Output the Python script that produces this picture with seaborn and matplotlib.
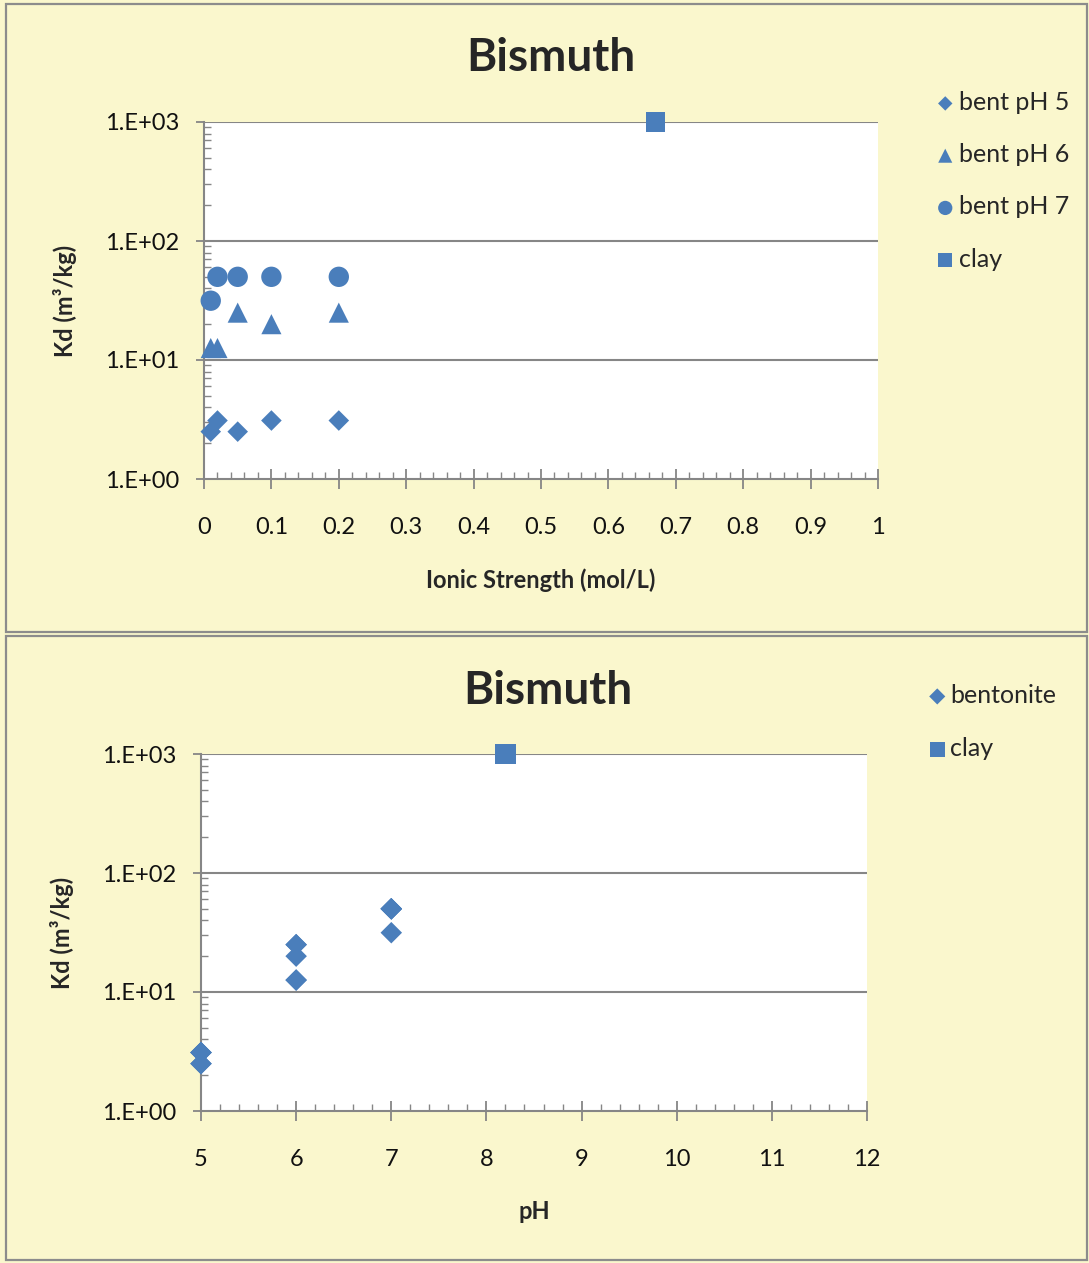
import matplotlib
matplotlib.use("Agg")
import matplotlib.pyplot as plt
from matplotlib.patches import Rectangle
from matplotlib.ticker import LogLocator, MultipleLocator, FixedLocator, FixedFormatter, NullFormatter
import seaborn as sns

# ---------------- data ----------------
ionic_strength = [0.01, 0.02, 0.05, 0.1, 0.2]
kd_bent_ph5 = [2.5, 3.1, 2.5, 3.1, 3.1]
kd_bent_ph6 = [12.6, 12.6, 25, 20, 25]
kd_bent_ph7 = [31.5, 50, 50, 50, 50]
clay_ionic_strength = [0.67]
clay_kd = [1000]

bent_ph = [5, 5, 5, 5, 5, 6, 6, 6, 6, 6, 7, 7, 7, 7, 7]
bent_kd = kd_bent_ph5 + kd_bent_ph6 + kd_bent_ph7
clay_ph = [8.2]

y_ticks = [1, 10, 100, 1000]
y_tick_labels = ["1.E+00", "1.E+01", "1.E+02", "1.E+03"]
top_x_ticks = [0, 0.1, 0.2, 0.3, 0.4, 0.5, 0.6, 0.7, 0.8, 0.9, 1]
top_x_labels = ["0", "0.1", "0.2", "0.3", "0.4", "0.5", "0.6", "0.7", "0.8", "0.9", "1"]
bot_x_ticks = [5, 6, 7, 8, 9, 10, 11, 12]

# ---------------- style ----------------
sns.set_style("white")
plt.rcParams['font.family'] = ['Lato', 'DejaVu Sans']

BG = "#FAF7CD"
BLUE = "#4A7EBB"
AXC = "#868686"
W, H = 1089, 1263
TICK_FS = 17
LABEL_FS = 17
LEG_FS = 18

fig = plt.figure(figsize=(W / 100, H / 100), dpi=100)
fig.patch.set_facecolor(BG)

def fx(px):
    return px / W

def fy(py):
    return 1 - py / H

# panel borders
for (x0, y0, x1, y1) in [(6, 4, 1087, 632), (6, 636, 1087, 1260)]:
    fig.patches.append(Rectangle((fx(x0), fy(y1)), fx(x1) - fx(x0), fy(y0) - fy(y1),
                                 transform=fig.transFigure, facecolor=BG,
                                 edgecolor="#8C8C8C", linewidth=1.6, zorder=-5))

def style_axis(ax, xmin, xmax, xticks, xminor):
    ax.set_facecolor("white")
    ax.set_yscale("log")
    ax.set_ylim(1, 1000)
    ax.set_xlim(xmin, xmax)
    ax.yaxis.set_major_locator(FixedLocator(y_ticks))
    ax.yaxis.set_major_formatter(FixedFormatter(y_tick_labels))
    ax.yaxis.set_minor_locator(LogLocator(base=10, subs=range(2, 10)))
    ax.yaxis.set_minor_formatter(NullFormatter())
    ax.xaxis.set_major_locator(FixedLocator(xticks))
    ax.xaxis.set_minor_locator(MultipleLocator(xminor))
    for s in ["top", "right"]:
        ax.spines[s].set_visible(False)
    for s in ["left", "bottom"]:
        ax.spines[s].set_color(AXC)
        ax.spines[s].set_linewidth(1.5)
    ax.grid(False)
    for yv in y_ticks[1:]:
        ax.axhline(yv, color=AXC, linewidth=1.5, zorder=1)
    ax.tick_params(axis="y", which="major", direction="out", length=6, width=1.3,
                   color=AXC, pad=12, labelsize=TICK_FS, labelcolor="#111111", left=True)
    ax.tick_params(axis="y", which="minor", direction="in", length=5, width=1.0,
                   color=AXC, left=True)
    ax.tick_params(axis="x", which="major", direction="inout", length=14, width=1.3,
                   color=AXC, pad=20, labelsize=TICK_FS, labelcolor="#111111", bottom=True)
    ax.tick_params(axis="x", which="minor", direction="in", length=5, width=1.0,
                   color=AXC, bottom=True)
    ax.set_ylabel("Kd (m³/kg)", fontsize=LABEL_FS, fontweight="bold", labelpad=20)

# ---------------- top chart ----------------
ax1 = fig.add_axes([fx(204), fy(479), fx(878) - fx(204), fy(122) - fy(479)])
style_axis(ax1, 0, 1, top_x_ticks, 0.02)
ax1.xaxis.set_major_formatter(FixedFormatter(top_x_labels))

sns.scatterplot(x=ionic_strength, y=kd_bent_ph5, ax=ax1, marker="D", s=110,
                color=BLUE, edgecolor="none", label="bent pH 5", clip_on=False, zorder=3)
sns.scatterplot(x=ionic_strength, y=kd_bent_ph6, ax=ax1, marker="^", s=210,
                color=BLUE, edgecolor="none", label="bent pH 6", clip_on=False, zorder=3)
sns.scatterplot(x=ionic_strength, y=kd_bent_ph7, ax=ax1, marker="o", s=215,
                color=BLUE, edgecolor="none", label="bent pH 7", clip_on=False, zorder=3)
sns.scatterplot(x=clay_ionic_strength, y=clay_kd, ax=ax1, marker="s", s=200,
                color=BLUE, edgecolor="none", label="clay", clip_on=False, zorder=4)
ax1.set_xlabel("Ionic Strength (mol/L)", fontsize=LABEL_FS, fontweight="bold", labelpad=22)
ax1.legend(loc="upper left", bbox_to_anchor=(fx(929), fy(81)), bbox_transform=fig.transFigure,
           frameon=False, fontsize=LEG_FS, markerscale=0.7, handlelength=0.5,
           handletextpad=0.3, labelspacing=1.17, borderaxespad=0)

fig.text(fx(551), fy(58), "Bismuth", ha="center", va="center", fontsize=33, fontweight="bold")

# ---------------- bottom chart ----------------
ax2 = fig.add_axes([fx(201), fy(1111), fx(867) - fx(201), fy(754) - fy(1111)])
style_axis(ax2, 5, 12, bot_x_ticks, 0.2)

sns.scatterplot(x=bent_ph, y=bent_kd, ax=ax2, marker="D", s=120,
                color=BLUE, edgecolor="none", label="bentonite", clip_on=False, zorder=3)
sns.scatterplot(x=clay_ph, y=clay_kd, ax=ax2, marker="s", s=220,
                color=BLUE, edgecolor="none", label="clay", clip_on=False, zorder=4)
ax2.set_xlabel("pH", fontsize=LABEL_FS, fontweight="bold", labelpad=22)
ax2.legend(loc="upper left", bbox_to_anchor=(fx(921), fy(674)), bbox_transform=fig.transFigure,
           frameon=False, fontsize=LEG_FS, markerscale=0.75, handlelength=0.5,
           handletextpad=0.25, labelspacing=1.2, borderaxespad=0)

fig.text(fx(548), fy(691), "Bismuth", ha="center", va="center", fontsize=33, fontweight="bold")

fig.savefig("out.png", dpi=100, facecolor=BG)
